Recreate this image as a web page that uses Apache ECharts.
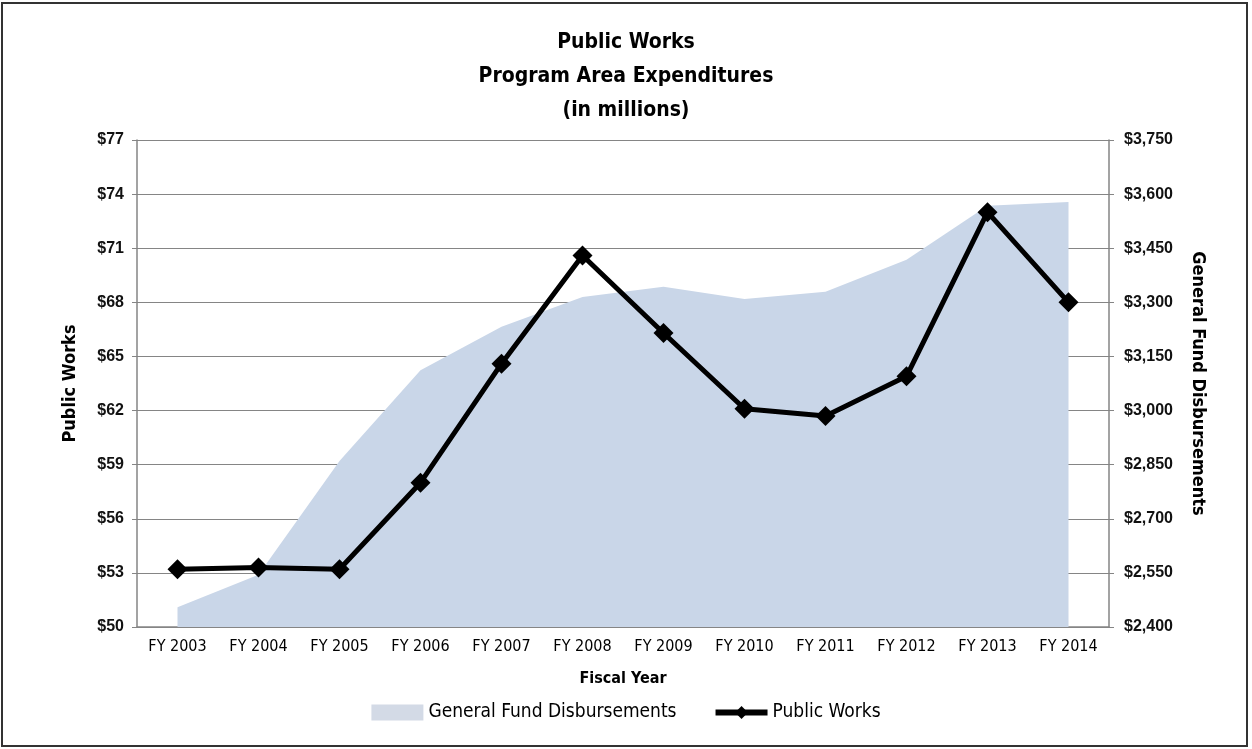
<!DOCTYPE html>
<html><head><meta charset="utf-8">
<script src="https://cdn.jsdelivr.net/npm/echarts@6/dist/echarts.min.js"></script>
<style>html,body{margin:0;padding:0;background:#fff}#c{width:1252px;height:749px}</style>
</head><body><div id="c"></div>
<script>
const categories = ['FY 2003','FY 2004','FY 2005','FY 2006','FY 2007','FY 2008','FY 2009','FY 2010','FY 2011','FY 2012','FY 2013','FY 2014'];
const generalFund = [2455, 2545, 2860, 3112, 3232, 3315, 3343, 3309, 3329, 3418, 3568, 3578];
const publicWorks = [53.2, 53.3, 53.2, 58.0, 64.6, 70.6, 66.3, 62.1, 61.7, 63.9, 73.0, 68.0];
const leftTicks = {min: 50, max: 77, interval: 3};
const rightTicks = {min: 2400, max: 3750, interval: 150};

const COND = '"Liberation Sans Narrow","DejaVu Sans Condensed","Liberation Sans",sans-serif';
const SANS = '"Liberation Sans","DejaVu Sans",sans-serif';
const grid = '#858585';
const chart = echarts.init(document.getElementById('c'));
chart.setOption({
  animation: false,
  backgroundColor: '#fff',
  title: {
    text: 'Public Works\nProgram Area Expenditures\n(in millions)',
    left: 'center', top: 21,
    textStyle: {fontFamily: COND, fontWeight: 'bold', fontSize: 21, lineHeight: 34, color: '#000'}
  },
  legend: {
    bottom: 22, left: 'center', itemWidth: 52, itemHeight: 16, itemGap: 36,
    textStyle: {fontFamily: COND, fontSize: 19, color: '#000'},
    data: [
      {name: 'General Fund Disbursements', icon: 'rect', itemStyle: {color: '#d3dae6'}},
      {name: 'Public Works', lineStyle: {width: 6, color: '#000'}}
    ]
  },
  grid: {left: 137, right: 143, top: 140, bottom: 122},
  xAxis: {
    type: 'category', data: categories, boundaryGap: true,
    name: 'Fiscal Year', nameLocation: 'middle', nameGap: 44,
    nameTextStyle: {fontFamily: COND, fontWeight: 'bold', fontSize: 16, color: '#000'},
    axisLine: {lineStyle: {color: grid, width: 1.5}},
    axisTick: {lineStyle: {color: grid}, length: 5},
    axisLabel: {fontFamily: COND, fontSize: 16, color: '#000', margin: 12}
  },
  yAxis: [{
    type: 'value', min: leftTicks.min, max: leftTicks.max, interval: leftTicks.interval,
    name: 'Public Works', nameLocation: 'middle', nameGap: 58, nameRotate: 90,
    nameTextStyle: {fontFamily: COND, fontWeight: 'bold', fontSize: 18, color: '#000'},
    axisLine: {show: true, lineStyle: {color: grid, width: 1.5}},
    axisTick: {show: true, lineStyle: {color: grid}, length: 5},
    splitLine: {lineStyle: {color: grid, width: 1.2}},
    axisLabel: {fontFamily: SANS, fontWeight: 'bold', fontSize: 16, color: '#111', margin: 13, formatter: v => '$' + v}
  }, {
    type: 'value', min: rightTicks.min, max: rightTicks.max, interval: rightTicks.interval, position: 'right',
    name: 'General Fund Disbursements', nameLocation: 'middle', nameGap: 80, nameRotate: -90,
    nameTextStyle: {fontFamily: COND, fontWeight: 'bold', fontSize: 18, color: '#000'},
    axisLine: {show: true, lineStyle: {color: grid, width: 1.5}},
    axisTick: {show: true, lineStyle: {color: grid}, length: 5},
    splitLine: {show: false},
    axisLabel: {fontFamily: SANS, fontWeight: 'bold', fontSize: 16, color: '#111', margin: 15,
      formatter: v => '$' + v.toLocaleString('en-US')}
  }],
  series: [{
    name: 'General Fund Disbursements', type: 'line', yAxisIndex: 1, data: generalFund,
    symbol: 'none', lineStyle: {width: 0, color: '#c9d6e8'}, itemStyle: {color: '#c9d6e8'},
    areaStyle: {color: '#c9d6e8', opacity: 1}, z: 1
  }, {
    name: 'Public Works', type: 'line', yAxisIndex: 0, data: publicWorks,
    symbol: 'diamond', symbolSize: 20,
    lineStyle: {width: 5, color: '#000'}, itemStyle: {color: '#000'}, z: 3
  }],
  graphic: [{
    type: 'rect', shape: {x: 2, y: 3, width: 1245, height: 743},
    style: {fill: 'none', stroke: '#333', lineWidth: 2}, silent: true
  }]
});
</script></body></html>
